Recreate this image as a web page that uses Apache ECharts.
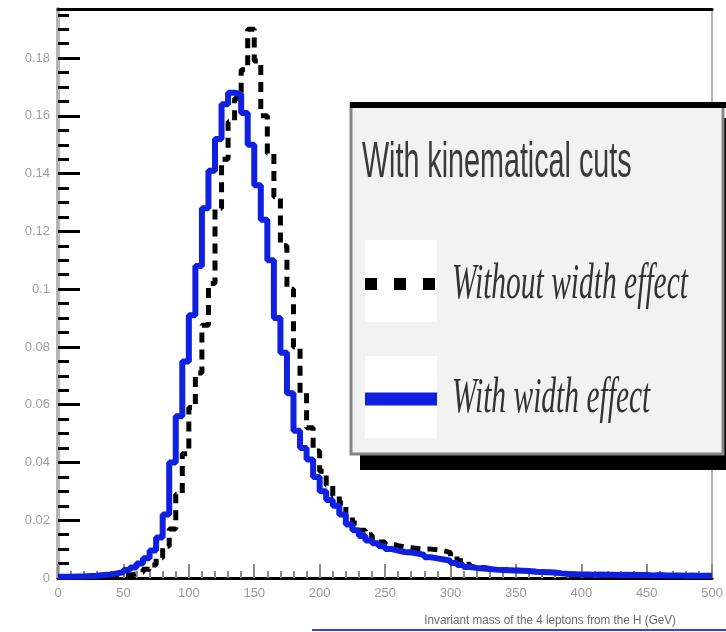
<!DOCTYPE html>
<html>
<head>
<meta charset="utf-8">
<script src="https://cdn.jsdelivr.net/npm/echarts@6/dist/echarts.min.js"></script>
<style>
  html, body { margin: 0; padding: 0; background: #fff; }
  #chart { width: 726px; height: 632px; }
</style>
</head>
<body>
<div id="chart"></div>
<script>
// Histogram binning: 5 GeV bins from 0 to 500 GeV
const BIN_LOW = 0;
const BIN_WIDTH = 5;
const X_MAX = 500;

// Normalised 4-lepton invariant mass, one value per bin
const withoutWidthEffect = [
  0.0002, 0.0002, 0.0002, 0.0003, 0.0003, 0.0003, 0.0004, 0.0005, 0.0006, 0.0008,
  0.0010, 0.0014, 0.0020, 0.0030, 0.0045, 0.0070, 0.0110, 0.0170, 0.0290, 0.0430,
  0.0590, 0.0710, 0.0875, 0.1020, 0.1280, 0.1450, 0.1580, 0.1660, 0.1760, 0.1900,
  0.1790, 0.1600, 0.1470, 0.1320, 0.1150, 0.1000, 0.0800, 0.0640, 0.0520, 0.0440,
  0.0370, 0.0320, 0.0285, 0.0260, 0.0215, 0.0190, 0.0165, 0.0150, 0.0135, 0.0125,
  0.0118, 0.0112, 0.0108, 0.0105, 0.0102, 0.0100, 0.0100, 0.0098, 0.0094, 0.0088,
  0.0075, 0.0060, 0.0048, 0.0040, 0.0036, 0.0033, 0.0030, 0.0029, 0.0028, 0.0027,
  0.0026, 0.0024, 0.0023, 0.0021, 0.0020, 0.0018, 0.0016, 0.0015, 0.0013, 0.0012,
  0.0011, 0.0011, 0.0010, 0.0011, 0.0010, 0.0010, 0.0009, 0.0010, 0.0009, 0.0009,
  0.0009, 0.0008, 0.0009, 0.0008, 0.0008, 0.0008, 0.0007, 0.0008, 0.0007, 0.0007
];

const withWidthEffect = [
  0.0004, 0.0004, 0.0005, 0.0005, 0.0007, 0.0008, 0.0010, 0.0012, 0.0016, 0.0020,
  0.0028, 0.0036, 0.0050, 0.0068, 0.0095, 0.0140, 0.0220, 0.0400, 0.0560, 0.0750,
  0.0910, 0.1080, 0.1280, 0.1410, 0.1520, 0.1640, 0.1680, 0.1675, 0.1610, 0.1500,
  0.1360, 0.1240, 0.1100, 0.0900, 0.0780, 0.0640, 0.0510, 0.0450, 0.0410, 0.0350,
  0.0300, 0.0270, 0.0250, 0.0220, 0.0185, 0.0165, 0.0145, 0.0130, 0.0120, 0.0110,
  0.0100, 0.0095, 0.0090, 0.0088, 0.0085, 0.0080, 0.0072, 0.0068, 0.0064, 0.0060,
  0.0052, 0.0045, 0.0038, 0.0035, 0.0033, 0.0031, 0.0029, 0.0028, 0.0027, 0.0026,
  0.0025, 0.0024, 0.0022, 0.0021, 0.0020, 0.0019, 0.0016, 0.0014, 0.0013, 0.0012,
  0.0012, 0.0011, 0.0012, 0.0011, 0.0011, 0.0010, 0.0011, 0.0010, 0.0010, 0.0010,
  0.0009, 0.0010, 0.0009, 0.0009, 0.0009, 0.0008, 0.0009, 0.0008, 0.0008, 0.0008
];

const seriesNames = ['Without width effect', 'With width effect'];
const legendTitle = 'With kinematical cuts';
const xAxisTitle = 'Invariant mass of the 4 leptons from the H (GeV)';

const Y_MAX = 0.197;
const Y_STEP = 0.02;
const X_STEP = 50;

// Turn per-bin values into step points: each bin starts at its low edge,
// with a closing point at the upper edge of the last bin.
function histogramPoints(values) {
  const pts = values.map((v, i) => [BIN_LOW + i * BIN_WIDTH, v]);
  pts.push([BIN_LOW + values.length * BIN_WIDTH, values[values.length - 1]]);
  return pts;
}

function yLabel(v) {
  if (v === 0) return '0';
  return String(+v.toFixed(2));
}

const chart = echarts.init(document.getElementById('chart'), null, { renderer: 'canvas' });

const labelFont = 'Liberation Sans, Arial, sans-serif';
const serifItalic = 'italic 50px Liberation Serif, Times New Roman, serif';

chart.setOption({
  animation: false,
  backgroundColor: '#ffffff',
  grid: { left: 58, right: 5, top: 9, bottom: 54, containLabel: false },
  xAxis: [
    {
      type: 'value', min: 0, max: X_MAX, interval: X_STEP, position: 'bottom',
      axisLine: { show: true, onZero: false, lineStyle: { color: '#000', width: 3 } },
      axisTick: { show: true, inside: true, length: 14, lineStyle: { color: '#8a8a8a', width: 2 } },
      minorTick: { show: true, splitNumber: 5, length: 7, lineStyle: { color: '#8a8a8a', width: 2 } },
      axisLabel: { color: '#9a9a9a', fontSize: 13, fontFamily: labelFont, margin: 9 },
      splitLine: { show: false }
    },
    {
      type: 'value', min: 0, max: X_MAX, position: 'top',
      axisLine: { show: true, onZero: false, lineStyle: { color: '#000', width: 3 } },
      axisTick: { show: false }, axisLabel: { show: false }, splitLine: { show: false }
    }
  ],
  yAxis: [
    {
      type: 'value', min: 0, max: Y_MAX, interval: Y_STEP, position: 'left',
      axisLine: { show: true, onZero: false, lineStyle: { color: '#b4b4b4', width: 4 } },
      axisTick: { show: true, inside: true, length: 22, lineStyle: { color: '#000', width: 3 } },
      minorTick: { show: true, splitNumber: 4, length: 11, lineStyle: { color: '#000', width: 3 } },
      axisLabel: { color: '#a0a0a0', fontSize: 13, fontFamily: labelFont, margin: 8,
                   showMaxLabel: false, formatter: yLabel },
      splitLine: { show: false }
    },
    {
      type: 'value', min: 0, max: Y_MAX, position: 'right',
      axisLine: { show: true, onZero: false, lineStyle: { color: '#b4b4b4', width: 2 } },
      axisTick: { show: false }, axisLabel: { show: false }, splitLine: { show: false }
    }
  ],
  series: [
    {
      name: seriesNames[0], type: 'line', step: 'end', symbol: 'none',
      data: histogramPoints(withoutWidthEffect),
      lineStyle: { color: '#000', width: 5, type: [10, 7] },
      z: 2
    },
    {
      name: seriesNames[1], type: 'line', step: 'end', symbol: 'none',
      data: histogramPoints(withWidthEffect),
      lineStyle: { color: '#1020e0', width: 6 },
      z: 3
    }
  ],
  graphic: [
    // legend panel with drop shadow
    { type: 'rect', shape: { x: 360, y: 118, width: 370, height: 352 }, style: { fill: '#000' }, z: 10 },
    { type: 'rect', shape: { x: 351, y: 104, width: 372, height: 350 },
      style: { fill: '#f2f2f2', stroke: '#858585', lineWidth: 3 }, z: 11 },
    { type: 'line', shape: { x1: 350, y1: 105, x2: 726, y2: 105 }, style: { stroke: '#000', lineWidth: 6 }, z: 12 },
    { type: 'text', x: 362, y: 163, scaleX: 0.574,
      style: { text: legendTitle, x: 0, y: 0, font: '50px Liberation Sans, Arial, sans-serif',
               fill: '#3a3a3a', textVerticalAlign: 'middle' }, z: 12 },
    { type: 'rect', shape: { x: 365, y: 240, width: 72, height: 82 }, style: { fill: '#fff' }, z: 12 },
    { type: 'line', shape: { x1: 365, y1: 284, x2: 437, y2: 284 },
      style: { stroke: '#000', lineWidth: 12, lineDash: [12, 17] }, z: 13 },
    { type: 'text', x: 452, y: 285, scaleX: 0.59,
      style: { text: seriesNames[0], x: 0, y: 0, font: serifItalic,
               fill: '#333', textVerticalAlign: 'middle' }, z: 12 },
    { type: 'rect', shape: { x: 365, y: 356, width: 72, height: 82 }, style: { fill: '#fff' }, z: 12 },
    { type: 'line', shape: { x1: 365, y1: 399, x2: 437, y2: 399 },
      style: { stroke: '#1020e0', lineWidth: 13 }, z: 13 },
    { type: 'text', x: 452, y: 399, scaleX: 0.59,
      style: { text: seriesNames[1], x: 0, y: 0, font: serifItalic,
               fill: '#333', textVerticalAlign: 'middle' }, z: 12 },
    // axis title, set below the tick labels
    { type: 'text', x: 676, y: 620, scaleX: 0.9,
      style: { text: xAxisTitle, x: 0, y: 0, font: '13px Liberation Sans, Arial, sans-serif',
               fill: '#6a6a6a', textAlign: 'right', textVerticalAlign: 'middle' }, z: 12 },
    { type: 'line', shape: { x1: 312, y1: 630, x2: 726, y2: 630 }, style: { stroke: '#2a48e0', lineWidth: 2 }, z: 12 }
  ]
});
</script>
</body>
</html>
